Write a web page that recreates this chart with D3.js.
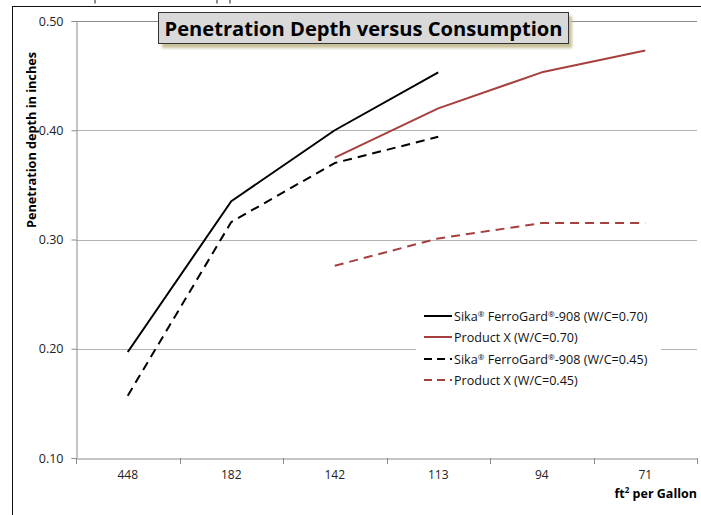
<!DOCTYPE html>
<html><head><meta charset="utf-8">
<script src="https://cdn.jsdelivr.net/npm/d3@7/dist/d3.min.js"></script>
<style>html,body{margin:0;padding:0;background:#fff;overflow:hidden}</style>
</head><body>
<svg id="c" width="701" height="515"></svg>
<script>
const categories = ["448", "182", "142", "113", "94", "71"];
const sika070 = [0.197, 0.335, 0.400, 0.453, null, null];
const prodX070 = [null, null, 0.375, 0.420, 0.453, 0.473];
const sika045 = [0.157, 0.316, 0.370, 0.394, null, null];
const prodX045 = [null, null, 0.276, 0.301, 0.315, 0.315];
const yTicks = [0.10, 0.20, 0.30, 0.40, 0.50];
const seriesNames = ["Sika® FerroGard®-908 (W/C=0.70)", "Product X (W/C=0.70)", "Sika® FerroGard®-908 (W/C=0.45)", "Product X (W/C=0.45)"];

const RED = "#a5403d";
const series = [
  {name: seriesNames[0], values: sika070, color: "#000", dash: null},
  {name: seriesNames[1], values: prodX070, color: RED, dash: null},
  {name: seriesNames[2], values: sika045, color: "#000", dash: "9,6"},
  {name: seriesNames[3], values: prodX045, color: RED, dash: "9,6"}
];
const FONT = "'Open Sans', 'Noto Sans', sans-serif";
const svg = d3.select("#c");

// cropped glyph fragments from the page above the chart
svg.append("g").attr("stroke", "#666").attr("stroke-width", 1.5)
  .selectAll("line").data([95, 217, 230]).join("line")
  .attr("x1", d => d).attr("x2", d => d).attr("y1", 0).attr("y2", 3.5);

// outer frame
svg.append("line").attr("x1", 12.5).attr("x2", 12.5).attr("y1", 6).attr("y2", 515).attr("stroke", "#111");
svg.append("line").attr("x1", 12).attr("x2", 701).attr("y1", 6.5).attr("y2", 6.5).attr("stroke", "#111");

const x = d3.scaleBand().domain(categories).range([76, 697]).padding(0);
const y = d3.scaleLinear().domain([0.1, 0.5]).range([458, 21]);
const cx = c => x(c) + x.bandwidth() / 2;

// gridlines
svg.append("g").selectAll("line").data(yTicks.filter(t => t > 0.1)).join("line")
  .attr("x1", 76).attr("x2", 697).attr("y1", d => Math.round(y(d)) + 0.5).attr("y2", d => Math.round(y(d)) + 0.5)
  .attr("stroke", d => d === 0.5 ? "#8c8c8c" : "#b4b4b4").attr("stroke-width", 1);

// y axis
const yAxis = svg.append("g").attr("transform", "translate(76.5,0)")
  .call(d3.axisLeft(y).tickValues(yTicks).tickFormat(d3.format(".2f")).tickSize(5).tickPadding(8));
yAxis.select(".domain").attr("stroke", "#8c8c8c");
yAxis.selectAll(".tick line").attr("stroke", "#8c8c8c");
yAxis.selectAll("text").attr("font-family", FONT).attr("font-size", 12.5).attr("fill", "#222");

// x axis
const xAxis = svg.append("g").attr("transform", "translate(0,458.5)")
  .call(d3.axisBottom(x).tickSize(0).tickPadding(12));
xAxis.select(".domain").attr("stroke", "#8c8c8c");
xAxis.selectAll("text").attr("font-family", FONT).attr("font-size", 12).attr("fill", "#222");
const edges = categories.map(c => x(c)).concat([x.range()[1]]);
svg.append("g").selectAll("line").data(edges).join("line")
  .attr("x1", d => Math.round(d) + 0.5).attr("x2", d => Math.round(d) + 0.5)
  .attr("y1", 458).attr("y2", 464).attr("stroke", "#8c8c8c");

// lines
const line = d3.line().defined(d => d.v != null).x(d => cx(d.c)).y(d => y(d.v));
svg.append("g").selectAll("path").data(series).join("path")
  .attr("d", s => line(s.values.map((v, i) => ({c: categories[i], v}))))
  .attr("fill", "none").attr("stroke", s => s.color).attr("stroke-width", 2)
  .attr("stroke-dasharray", s => s.dash).attr("stroke-linejoin", "round");

// axis titles
svg.append("text").attr("transform", "translate(36,140) rotate(-90)").attr("text-anchor", "middle")
  .attr("font-family", FONT).attr("font-weight", "bold").attr("font-size", 12.5).attr("fill", "#000")
  .attr("textLength", 176).attr("lengthAdjust", "spacingAndGlyphs")
  .text("Penetration depth in inches");

const xt = svg.append("text").attr("x", 697).attr("y", 498).attr("text-anchor", "end")
  .attr("font-family", FONT).attr("font-weight", "bold").attr("font-size", 12.5).attr("fill", "#000");
xt.append("tspan").text("ft");
xt.append("tspan").attr("font-size", 8).attr("dy", -5).text("2");
xt.append("tspan").attr("dy", 5).text(" per Gallon");

// legend
const lg = svg.append("g");
lg.append("rect").attr("x", 416).attr("y", 305).attr("width", 245).attr("height", 88).attr("fill", "#fff");
const rows = [316, 337, 359, 380];
const items = lg.selectAll("g.item").data(series).join("g").attr("class", "item")
  .attr("transform", (d, i) => `translate(0,${rows[i]})`);
items.append("line").attr("x1", 424).attr("x2", 452).attr("y1", 0).attr("y2", 0)
  .attr("stroke", d => d.color).attr("stroke-width", 2).attr("stroke-dasharray", d => d.dash ? "8,5" : null);
items.each(function(d) {
  const t = d3.select(this).append("text").attr("x", 454).attr("y", 4.5)
    .attr("font-family", FONT).attr("font-size", 12.6).attr("fill", "#111");
  const parts = d.name.split("®");
  parts.forEach((p, i) => {
    t.append("tspan").attr("dy", i > 0 ? 4 : 0).text(p);
    if (i < parts.length - 1) t.append("tspan").attr("font-size", 8).attr("dy", -4).text("®");
  });
});

// title box
const defs = svg.append("defs");
const f = defs.append("filter").attr("id", "blur").attr("x", "-10%").attr("y", "-50%").attr("width", "120%").attr("height", "200%");
f.append("feGaussianBlur").attr("stdDeviation", 1.6);
const tg = svg.append("g");
tg.append("rect").attr("x", 162).attr("y", 16).attr("width", 410).attr("height", 32)
  .attr("fill", "#c7c096").attr("filter", "url(#blur)");
tg.append("rect").attr("x", 158.5).attr("y", 12.5).attr("width", 410).attr("height", 31)
  .attr("fill", "#d9d9d9").attr("stroke", "#333").attr("stroke-width", 1);
tg.append("text").attr("x", 363.5).attr("y", 36).attr("text-anchor", "middle")
  .attr("font-family", FONT).attr("font-weight", "bold").attr("font-size", 20).attr("fill", "#000")
  .attr("textLength", 398).attr("lengthAdjust", "spacingAndGlyphs")
  .text("Penetration Depth versus Consumption");
</script>
</body></html>
